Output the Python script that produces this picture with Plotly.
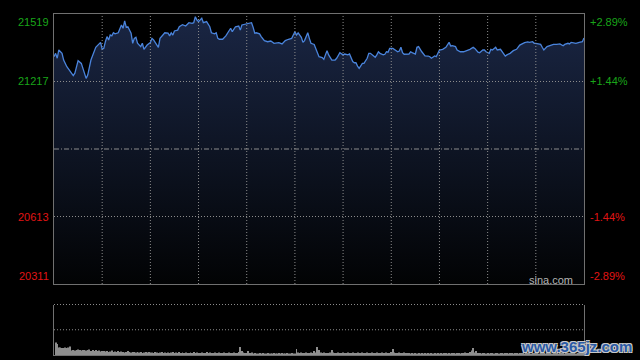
import plotly.graph_objects as go

# ---------------- data ----------------
prev_close = 20915
y_min, y_max = 20311, 21519
left_labels = [21519, 21217, 20613, 20311]
right_labels = ["+2.89%", "+1.44%", "-1.44%", "-2.89%"]
label_colors = ["#19a519", "#19a519", "#e01414", "#e01414"]
grid_minutes = [30, 60, 90, 120, 150, 180, 210, 240, 270, 300]
session_len = 330

minutes = [
    0, 1, 2, 3, 5, 6, 8, 10, 12, 13,
    15, 17, 18, 19, 20, 21, 23, 26, 28, 29,
    30, 31, 32, 33, 34, 35, 36, 37, 38, 40,
    42, 43, 44, 45, 46, 48, 49, 50, 51, 52,
    54, 55, 56, 58, 60, 61, 62, 64, 65, 66,
    68, 69, 71, 72, 73, 74, 75, 77, 78, 80,
    82, 83, 84, 86, 87, 88, 89, 90, 92, 93,
    95, 97, 98, 100, 101, 102, 103, 105, 107, 109,
    110, 111, 112, 113, 115, 116, 117, 119, 121,
    123, 124, 125, 126, 128, 129, 131, 133, 135, 137,
    139, 140, 142, 144, 146, 148, 149, 150, 151, 152,
    154, 155, 156, 157, 158, 159, 160, 162, 163, 165,
    167, 168, 169, 170, 171, 173, 175, 176, 178, 180,
    181, 183, 184, 186, 187, 188, 189, 190, 192, 193,
    195, 196, 197, 198, 200, 201, 202, 203, 205, 206,
    207, 208, 209, 211, 212, 214, 215, 216, 217, 218,
    221, 222, 223, 225, 226, 227, 229, 231, 233, 234,
    235, 236, 237, 238, 240,
    242, 244, 246, 247, 248, 250, 251, 253, 255, 257,
    259, 261, 262, 264, 265, 267, 268, 269, 270, 271,
    272, 273, 275, 276, 278, 279, 281, 282, 284, 286,
    288, 290, 291, 293, 295, 296, 298, 299, 300, 302,
    303, 304, 305, 307, 308, 310, 311, 313, 315, 317,
    318, 320, 321, 322, 324, 325, 327, 329, 330,
]

prices = [
    21328, 21343, 21321, 21358, 21343, 21313, 21283, 21261, 21243, 21254,
    21310, 21298, 21276, 21254, 21231, 21246, 21313, 21370, 21383, 21392,
    21361, 21365, 21395, 21418, 21403, 21425, 21421, 21435, 21430, 21435,
    21470, 21455, 21488, 21459, 21462, 21433, 21388, 21410, 21415, 21388,
    21373, 21388, 21361, 21380, 21391, 21410, 21403, 21380, 21370, 21410,
    21430, 21435, 21433, 21421, 21435, 21425, 21443, 21447, 21462, 21471,
    21465, 21474, 21480, 21477, 21480, 21507, 21492, 21485, 21500, 21480,
    21485, 21462, 21435, 21430, 21435, 21410, 21406, 21406, 21421, 21444,
    21455, 21440, 21451, 21462, 21465, 21447, 21470, 21473, 21474,
    21480, 21459, 21433, 21435, 21430, 21418, 21400, 21395, 21398, 21388,
    21392, 21391, 21385, 21400, 21406, 21410, 21425, 21440, 21425, 21435,
    21415, 21392, 21400, 21421, 21435, 21410, 21388, 21383, 21365, 21328,
    21324, 21316, 21336, 21355, 21336, 21313, 21313, 21321, 21346, 21336,
    21340, 21336, 21340, 21306, 21301, 21301, 21286, 21276, 21298, 21298,
    21321, 21343, 21343, 21336, 21325, 21336, 21350, 21343, 21336, 21339,
    21350, 21348, 21365, 21365, 21361, 21350, 21353, 21370, 21346, 21339,
    21340, 21350, 21346, 21340, 21370, 21373, 21350, 21332, 21331, 21328,
    21321, 21328, 21331, 21328, 21358,
    21361, 21370, 21392, 21376, 21377, 21373, 21358, 21350, 21350, 21355,
    21361, 21370, 21365, 21348, 21346, 21358, 21358, 21350, 21346, 21343,
    21361, 21358, 21370, 21358, 21361, 21350, 21331, 21336, 21343, 21355,
    21361, 21380, 21385, 21391, 21394, 21392, 21395, 21388, 21388, 21383,
    21383, 21370, 21358, 21373, 21376, 21380, 21383, 21383, 21385, 21377,
    21383, 21388, 21385, 21392, 21388, 21388, 21392, 21395, 21412,
]

volumes = [
    0, 12.5, 11, 7.5, 7.5, 7, 7, 7.5, 7, 7.5,
    8.5, 4.5, 5, 4.5, 5, 5.5, 5, 4.5, 5, 5,
    4.5, 5, 5.5, 4, 5, 4, 5, 4, 4.5, 3.5,
    4, 4, 3.5, 4, 3, 3.5, 4.5, 3, 3.5, 3,
    4, 3, 3.5, 3, 2.5, 3, 4, 3, 2.5, 3,
    3, 2.5, 3, 2.5, 3, 2, 2.5, 3, 2.5, 3,
    2.5, 2.5, 2, 3, 2.5, 2, 2.5, 3, 2, 2.5,
    2, 2.5, 2, 2.5, 3, 2, 2.5, 2, 3, 2,
    2.5, 2, 2.5, 2, 2, 2.5, 2, 3, 2, 2.5,
    2, 2, 2.5, 2, 2, 3, 2, 2.5, 2, 2,
    2.5, 2, 2, 2.5, 2, 2, 2.5, 2, 2, 2.5,
    2, 2, 2.5, 2, 2, 3, 8, 4, 2.5, 2,
    2, 4, 2, 2.5, 1.5, 2, 1.5, 1.5, 2, 1.5,
    2, 1.5, 1.5, 2, 1.5, 1.5, 1.5, 2, 1.5, 1.5,
    2, 1.5, 2, 1.5, 1.5, 2, 1.5, 1.5, 2, 1.5,
    1.5, 6, 2.5, 2, 2.5, 2, 2, 2.5, 2, 2,
    2.5, 2, 4, 2.5, 8, 5, 2.5, 2, 2.5, 2,
    2, 2, 2.5, 5, 2.5, 2, 2, 2.5, 2, 2,
    2.5, 2, 2, 2.5, 2, 2, 2.5, 2, 2, 2.5,
    2, 2, 2.5, 2, 2, 2.5, 2, 2, 2.5, 2,
    2, 2.5, 2, 2, 2.5, 2, 2, 2.5, 2, 2,
    3, 6, 2.5, 2, 2, 2.5, 2, 2, 2.5, 2,
    2, 2, 1.5, 2, 1.5, 2, 1.5, 2, 1.5, 2,
    1.5, 2, 1.5, 2, 1.5, 2, 1.5, 2, 1.5, 2,
    1.5, 2, 1.5, 2, 2, 1.5, 2, 1.5, 2, 2,
    1.5, 2, 2, 1.5, 2, 2, 2.5, 2, 2, 3,
    4.5, 7, 2.5, 4, 2, 2, 1.5, 2, 2, 1.5,
    2, 1.5, 2, 2, 1.5, 2, 2, 1.5, 2, 2,
    1.5, 2, 2, 1.5, 2, 2, 1.5, 2, 2, 1.5,
    2, 2, 2, 1.5, 2, 2, 2, 1.5, 2, 2,
    2, 2, 1.5, 2, 2, 2, 1.5, 2, 2, 2,
    1.5, 2, 2, 2, 1.5, 2, 2, 2, 1.5, 2,
    2, 2, 2, 2, 2, 1.5, 2, 2, 2, 2,
    2.5,
]
vol_minutes = list(range(len(volumes)))
vol_axis_max = 50.5

# ---------------- layout geometry ----------------
W, H = 640, 360
PL, PR = 54, 584
MT, MB = 14, 284
VT, VB = 304.5, 355
FONT = "Liberation Sans, Arial, sans-serif"
AXC = "#707070"
GRIDC = "#8c8c8c"

fig = go.Figure()

fig.add_trace(go.Scatter(
    x=minutes, y=prices, mode="lines",
    line=dict(color="#4a84dc", width=1.3),
    fill="tozeroy",
    fillgradient=dict(type="vertical",
                      colorscale=[[0, "#020304"], [1, "#1a2644"]],
                      start=y_min, stop=y_max),
    hoverinfo="skip", showlegend=False,
    xaxis="x", yaxis="y",
))

fig.add_trace(go.Bar(
    x=vol_minutes, y=volumes, width=0.6,
    marker=dict(color="#8e8e8e", line=dict(width=0)),
    hoverinfo="skip", showlegend=False,
    xaxis="x2", yaxis="y2",
))

shapes = []
for m in grid_minutes:
    shapes.append(dict(type="line", xref="x", yref="y domain", x0=m, x1=m, y0=0, y1=1,
                       line=dict(color=GRIDC, width=1, dash="1px,2px"), layer="above"))
for v in (left_labels[1], left_labels[2]):
    shapes.append(dict(type="line", xref="x domain", yref="y", x0=0, x1=1, y0=v, y1=v,
                       line=dict(color=GRIDC, width=1, dash="1px,2px"), layer="above"))
shapes.append(dict(type="line", xref="x domain", yref="y", x0=0, x1=1, y0=prev_close, y1=prev_close,
                   line=dict(color=GRIDC, width=1, dash="5px,2px,1px,2px"), layer="above"))
for fy in (1, 0.5):
    shapes.append(dict(type="line", xref="x2 domain", yref="y2 domain", x0=0, x1=1, y0=fy, y1=fy,
                       line=dict(color=GRIDC, width=1, dash="1px,2px"), layer="above"))

annotations = []
n = len(left_labels)
for i, (v, pct, col) in enumerate(zip(left_labels, right_labels, label_colors)):
    ya = "top" if i == 0 else ("bottom" if i == n - 1 else "middle")
    annotations.append(dict(xref="paper", yref="y", x=51 / W, y=v, xanchor="right", yanchor=ya,
                            text=str(v), showarrow=False, font=dict(family=FONT, size=11, color=col)))
    annotations.append(dict(xref="paper", yref="y", x=588 / W, y=v, xanchor="left", yanchor=ya,
                            text=pct, showarrow=False, font=dict(family=FONT, size=11, color=col)))
annotations.append(dict(xref="paper", yref="paper", x=575 / W, y=1 - 279.5 / H, xanchor="right",
                        yanchor="middle", text="sina.com", showarrow=False,
                        font=dict(family=FONT, size=11, color="#b4b4b4")))
annotations.append(dict(xref="paper", yref="paper", x=634 / W, y=1 - 346 / H, xanchor="right",
                        yanchor="middle", text="<b>www.365jz.com</b>", showarrow=False,
                        font=dict(family=FONT, size=15, color="#2a5aa6",
                                  shadow="1px 1px 0 #c8c8c8, -1px -1px 0 #c8c8c8, 1px -1px 0 #c8c8c8, -1px 1px 0 #c8c8c8")))

fig.update_layout(
    width=W, height=H,
    margin=dict(l=0, r=0, t=0, b=0),
    paper_bgcolor="#000000", plot_bgcolor="#000000",
    showlegend=False,
    shapes=shapes, annotations=annotations,
    xaxis=dict(domain=[PL / W, PR / W], range=[0, session_len], anchor="y",
               showgrid=False, zeroline=False, showticklabels=False, ticks="",
               showline=True, mirror=True, linecolor=AXC, linewidth=1, fixedrange=True),
    yaxis=dict(domain=[1 - MB / H, 1 - MT / H], range=[y_min, y_max], anchor="x",
               showgrid=False, zeroline=False, showticklabels=False, ticks="",
               showline=True, mirror=True, linecolor=AXC, linewidth=1, fixedrange=True),
    xaxis2=dict(domain=[PL / W, PR / W], range=[0, session_len], anchor="y2",
                showgrid=False, zeroline=False, showticklabels=False, ticks="",
                showline=True, mirror=False, linecolor=AXC, linewidth=1, fixedrange=True),
    yaxis2=dict(domain=[1 - VB / H, 1 - VT / H], range=[0, vol_axis_max], anchor="x2",
                showgrid=False, zeroline=False, showticklabels=False, ticks="",
                showline=True, mirror=True, linecolor=AXC, linewidth=1, fixedrange=True),
)

fig.write_html("out.html", config={"displayModeBar": False},
               post_script="document.body.style.margin='0';document.body.style.overflow='hidden';")
